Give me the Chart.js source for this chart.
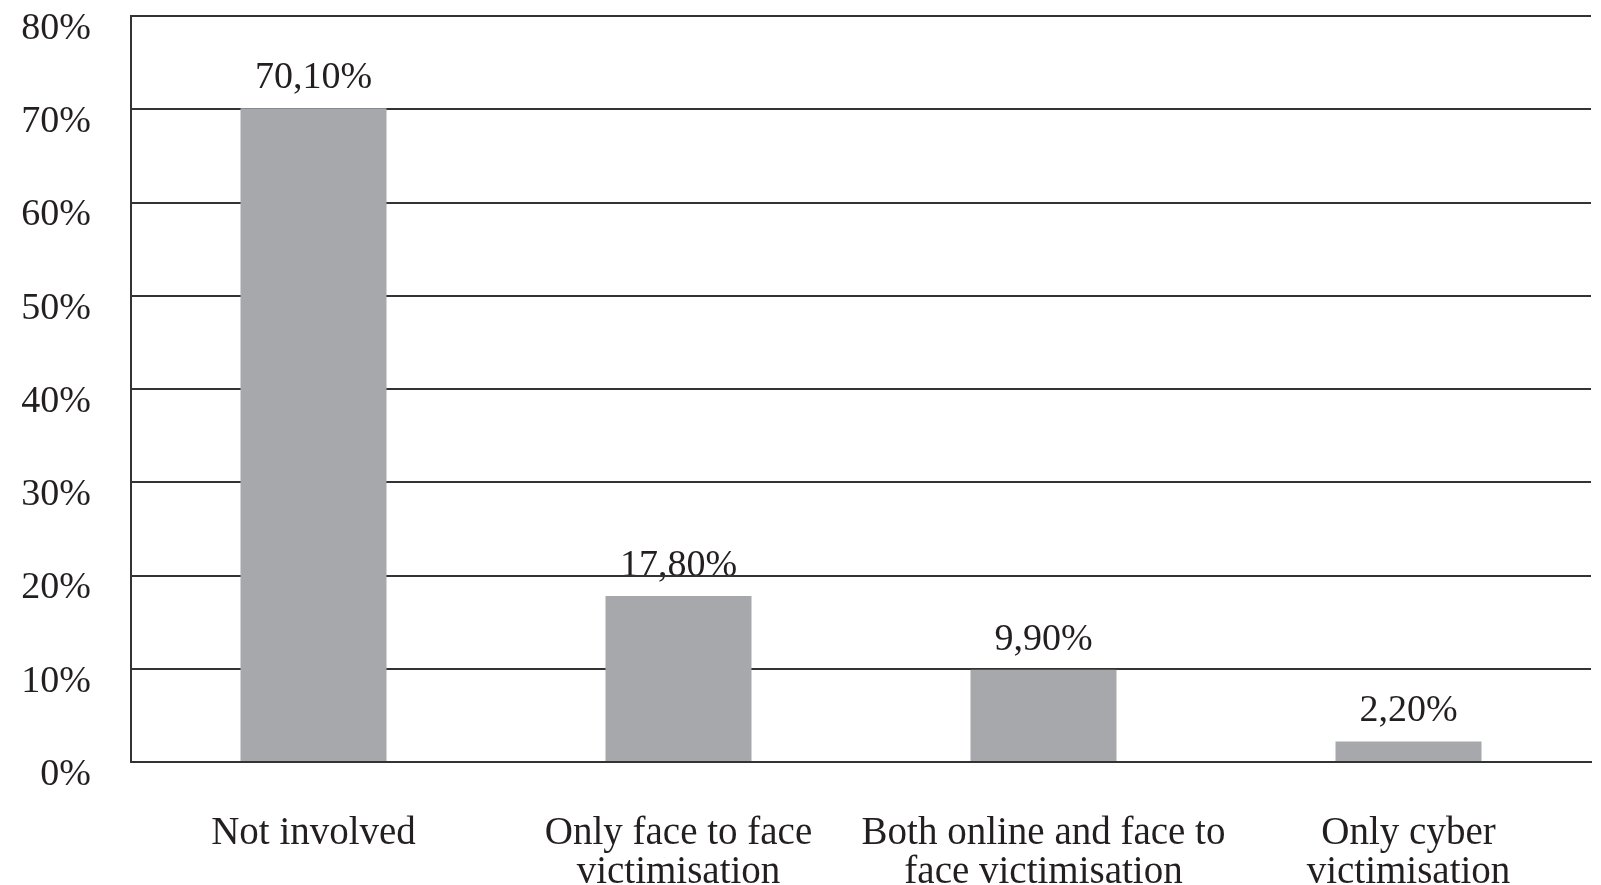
<!DOCTYPE html>
<html>
<head>
<meta charset="utf-8">
<script src="https://cdn.jsdelivr.net/npm/chart.js@4.4.0/dist/chart.umd.min.js"></script>
<style>
  html, body { margin: 0; padding: 0; background: #ffffff; }
  #wrap { width: 1601px; height: 885px; }
</style>
</head>
<body>
<div id="wrap"><canvas id="victimChart" width="1601" height="885"></canvas></div>
<script>
const categories = [
  ["Not involved"],
  ["Only face to face", "victimisation"],
  ["Both online and face to", "face victimisation"],
  ["Only cyber", "victimisation"]
];
const shares = [70.1, 17.8, 9.9, 2.2];
const yTicks = [0, 10, 20, 30, 40, 50, 60, 70, 80];

const inkColor = '#231f20';
const lineColor = '#333333';
const serif = '"Liberation Serif", "Times New Roman", serif';

function pctLabel(v) {
  return v.toFixed(2).replace('.', ',') + '%';
}

// value labels go in before the grid, so the grid runs over them like in the print
const valueLabels = {
  id: 'valueLabels',
  beforeDraw(chart) {
    const ctx = chart.ctx;
    const meta = chart.getDatasetMeta(0);
    ctx.save();
    ctx.font = '38px ' + serif;
    ctx.fillStyle = inkColor;
    ctx.textAlign = 'center';
    ctx.textBaseline = 'alphabetic';
    meta.data.forEach((bar, i) => {
      ctx.fillText(pctLabel(shares[i]), bar.x, bar.y - 20);
    });
    ctx.restore();
  }
};

new Chart(document.getElementById("victimChart"), {
  type: 'bar',
  data: {
    labels: categories,
    datasets: [{
      data: shares,
      backgroundColor: '#a7a8ac',
      borderWidth: 0,
      barPercentage: 0.4,
      categoryPercentage: 1.0
    }]
  },
  options: {
    responsive: false,
    animation: false,
    layout: { padding: { top: 16, right: 10, left: 0, bottom: 0 } },
    plugins: {
      legend: { display: false },
      tooltip: { enabled: false }
    },
    scales: {
      x: {
        grid: { display: false },
        border: { display: true, color: lineColor, width: 2 },
        ticks: {
          color: inkColor,
          font: { family: serif, size: 39, lineHeight: 1.0 },
          padding: 44,
          maxRotation: 0,
          autoSkip: false
        },
        afterFit(scale) {
          scale.height = 123;
          scale.paddingLeft = 0;
          scale.paddingRight = 0;
        }
      },
      y: {
        min: 0,
        max: 80,
        afterBuildTicks(scale) {
          scale.ticks = yTicks.map(v => ({ value: v }));
        },
        grid: { color: lineColor, lineWidth: 2, drawTicks: false },
        border: { display: true, color: lineColor, width: 2 },
        ticks: {
          color: inkColor,
          font: { family: serif, size: 38 },
          padding: 40,
          labelOffset: 13,
          callback: v => v + '%'
        },
        afterFit(scale) {
          scale.width = 131;
          scale.paddingTop = 0;
          scale.paddingBottom = 0;
        }
      }
    }
  },
  plugins: [valueLabels]
});
</script>
</body>
</html>
